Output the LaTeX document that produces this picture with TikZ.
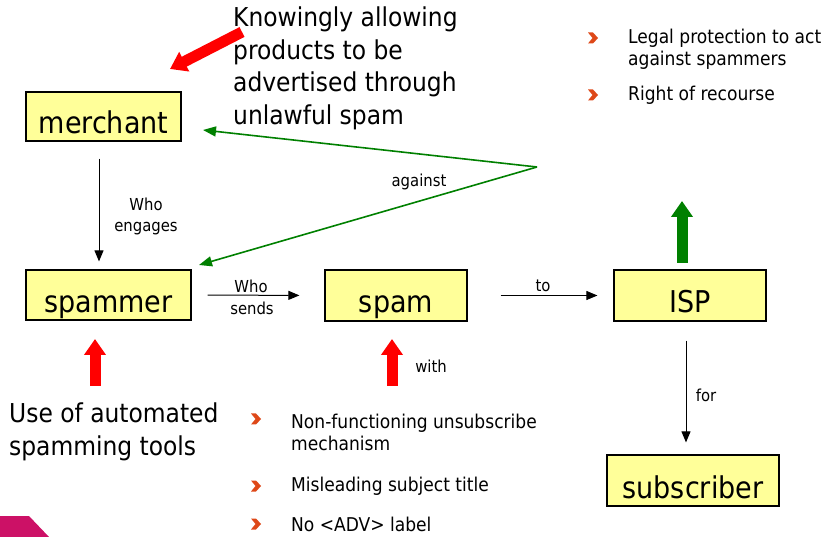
\documentclass[tikz,border=0pt]{standalone}
\usepackage{fontspec}
\setmainfont{DejaVu Sans Condensed}
\usetikzlibrary{arrows.meta,calc}
\definecolor{boxfill}{RGB}{255,255,153}
\definecolor{darkgreen}{RGB}{0,128,0}
\definecolor{bulletred}{RGB}{222,72,24}
\definecolor{arrowred}{RGB}{255,0,0}
\definecolor{magentabar}{RGB}{204,17,102}
\tikzset{
  entity/.style={draw=black, line width=1.2pt, fill=boxfill, inner sep=0pt,
    font=\fontsize{30}{32}\selectfont, text height=35pt, text depth=0pt},
  flow/.style={draw=black, line width=1pt, -{Triangle[width=9pt,length=11pt]}},
  against/.style={draw=darkgreen, line width=1.6pt, -{Triangle[width=10pt,length=13pt]}},
  blockarrow/.style={line width=11pt, -{Triangle[width=21pt,length=16pt]}},
  small/.style={font=\fontsize{16.5}{19}\selectfont, inner sep=0pt},
  big/.style={font=\fontsize{26}{32.5}\selectfont, inner sep=0pt, align=left, anchor=north west},
  bul/.style={font=\fontsize{19}{22}\selectfont, inner sep=0pt, align=left, anchor=west},
}
% orange chevron bullet
\newcommand{\chev}[1]{%
  \fill[bulletred] ($(#1)+(-5,-5.5)$) -- ++(5,0) -- ++(5,5.5) -- ++(-5,5.5) -- ++(-5,0) -- ++(4.5,-5.5) -- cycle;}
\begin{document}
\begin{tikzpicture}[x=1pt,y=-1pt]
\useasboundingbox (0,0) rectangle (828,537);

% corner decoration
\fill[magentabar] (0,516) -- (29,516) -- (49,537) -- (0,537) -- cycle;

% entities
\node[entity, minimum width=155pt, minimum height=49pt] (merchant) at (103.5,116.5) {merchant};
\node[entity, minimum width=165pt, minimum height=50pt] (spammer) at (108.5,295) {spammer};
\node[entity, minimum width=142pt, minimum height=51pt] (spam) at (396,295.5) {spam};
\node[entity, minimum width=152pt, minimum height=51pt] (isp) at (690,295.5) {ISP};
\node[entity, minimum width=172pt, minimum height=51pt] (subscriber) at (693,480.5) {subscriber};

% flow connectors
\draw[flow, shorten <=17pt, shorten >=8pt] ([xshift=-4.5pt]merchant.south) -- ([xshift=-9.5pt]spammer.north);
\node[small, align=center] (engages) at (146,216) {Who\\[2pt]engages};
\draw[flow, shorten <=16pt, shorten >=25pt] (spammer.east) -- (spam.west);
\node[small] (who) at (251,286) {Who};
\node[small] (sends) at (252,308) {sends};
\draw[flow, shorten <=33pt, shorten >=16pt] (spam.east) -- (isp.west);
\node[small] (to) at (543,286) {to};
\draw[flow, shorten <=19pt, shorten >=12pt] ([xshift=-4pt]isp.south) -- ([xshift=-7pt]subscriber.north);
\node[small] (for) at (706,395) {for};

% green "against" lines
\coordinate (apex) at (537,167);
\coordinate (mtip) at (203,130);
\coordinate (stip) at (199,265);
\draw[against] (apex) -- (mtip);
\draw[against] (apex) -- (stip);
\node[small] (againstlbl) at (419,182) {against};

% block arrows
\coordinate (r1a) at (242,32);
\coordinate (r1b) at (170,69);
\draw[blockarrow, arrowred] (r1a) -- (r1b);
\coordinate (r2a) at (95,386);
\coordinate (r2b) at (95,339);
\draw[blockarrow, arrowred] (r2a) -- (r2b);
\coordinate (r3a) at (392,386);
\coordinate (r3b) at (392,339);
\draw[blockarrow, arrowred] (r3a) -- (r3b);
\coordinate (g1a) at (682,263);
\coordinate (g1b) at (682,201);
\draw[blockarrow, darkgreen] (g1a) -- (g1b);

% annotations
\node[big] (knowingly) at (233,7) {Knowingly allowing\\products to be\\advertised through\\unlawful spam};
\node[big] (automated) at (9,403) {Use of automated\\spamming tools};
\node[small] (with) at (431,366) {with};

% bullet lists
\node[bul] (legal) at (628,49) {Legal protection to act\\against spammers};
\chev{593,38}
\node[bul] (recourse) at (628,95) {Right of recourse};
\chev{593,95}

\node[bul] (nonfunc) at (291,432) {Non-functioning unsubscribe\\mechanism};
\chev{256,419}
\node[bul] (mislead) at (291,486) {Misleading subject title};
\chev{256,486}
\node[bul] (noadv) at (291,524) {No <ADV> label};
\chev{256,524}
\end{tikzpicture}
\end{document}
